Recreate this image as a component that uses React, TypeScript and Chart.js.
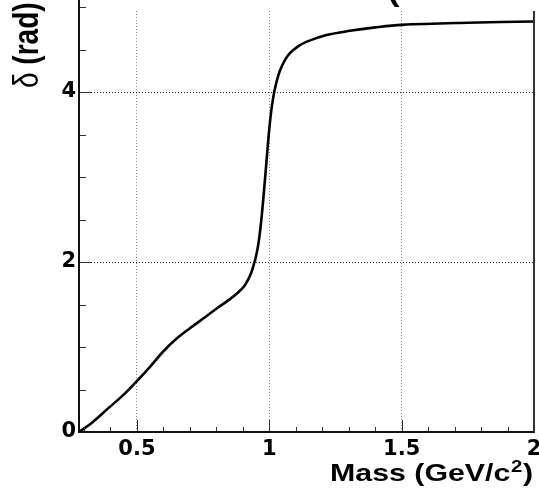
import React, { useEffect, useRef } from "react";
import { Chart, registerables } from "chart.js";

Chart.register(...registerables);

// Phase shift vs. invariant mass
const massGeV = [
  0.281, 0.33, 0.39, 0.45, 0.5, 0.55, 0.6, 0.65, 0.7, 0.75, 0.8, 0.85, 0.88,
  0.905, 0.922, 0.933, 0.94, 0.95, 0.96, 0.97, 0.98, 0.99, 1.0, 1.01, 1.02,
  1.03, 1.04, 1.06, 1.077, 1.11, 1.14, 1.216, 1.304, 1.4, 1.5, 1.75, 2.0,
];
const deltaRad = [
  0.0, 0.11, 0.275, 0.44, 0.6, 0.77, 0.95, 1.1, 1.22, 1.335, 1.45, 1.56, 1.635,
  1.715, 1.805, 1.885, 1.955, 2.07, 2.24, 2.5, 2.84, 3.21, 3.57, 3.84, 4.02,
  4.15, 4.25, 4.38, 4.455, 4.54, 4.59, 4.67, 4.72, 4.76, 4.79, 4.815, 4.83,
];

const xTickValues = [0.5, 1, 1.5, 2];
const yTickValues = [0, 2, 4];

const xMin = 0.281;
const xMax = 2.0;
const yMin = 0;
const yMax = 4.953;
const xMajorStep = 0.5;
const xMinorStep = 0.1;
const yMajorStep = 2;
const yMinorStep = 0.5;
const yMinorTop = 5.0;

const xTitleMain = "Mass (GeV/c";
const xTitleSup = "2";
const xTitleEnd = ")";
const yTitleSymbol = "\u03B4";
const yTitleRest = " (rad)";
const topFragment = "(";

const framePlugin = {
  id: "rootFrame",
  afterDraw(chart: any) {
    const ctx = chart.ctx as CanvasRenderingContext2D;
    const area = chart.chartArea;
    const xs = chart.scales.x;
    const ys = chart.scales.y;
    ctx.save();

    // tick marks (inside the frame, ROOT style)
    ctx.strokeStyle = "#333";
    ctx.lineWidth = 1;
    ctx.beginPath();
    for (let i = 3; i <= 19; i++) {
      const v = i * xMinorStep;
      const px = Math.round(xs.getPixelForValue(v)) + 0.5;
      const major = Math.abs(v / xMajorStep - Math.round(v / xMajorStep)) < 1e-6;
      const len = major ? 12 : 5;
      ctx.moveTo(px, area.bottom);
      ctx.lineTo(px, area.bottom - len);
    }
    for (let v = yMinorStep; v <= yMinorTop + 1e-6; v += yMinorStep) {
      const py = Math.round(ys.getPixelForValue(v)) + 0.5;
      const major = Math.abs(v / yMajorStep - Math.round(v / yMajorStep)) < 1e-6;
      const len = major ? 12 : 7;
      ctx.moveTo(area.left, py);
      ctx.lineTo(area.left + len, py);
    }
    ctx.stroke();

    // frame lines
    ctx.strokeStyle = "#111";
    ctx.lineWidth = 2;
    ctx.beginPath();
    ctx.moveTo(area.left, 0);
    ctx.lineTo(area.left, area.bottom + 1);
    ctx.moveTo(area.left - 1, area.bottom);
    ctx.lineTo(area.right + 1, area.bottom);
    ctx.stroke();
    ctx.strokeStyle = "#333";
    ctx.beginPath();
    ctx.moveTo(area.right, area.top);
    ctx.lineTo(area.right, area.bottom);
    ctx.stroke();

    // x title
    ctx.fillStyle = "#000";
    ctx.textBaseline = "alphabetic";
    ctx.textAlign = "left";
    const mainFont = "bold 24px 'Liberation Sans', Arial, sans-serif";
    const supFont = "bold 16px 'Liberation Sans', Arial, sans-serif";
    ctx.font = mainFont;
    const w1 = ctx.measureText(xTitleMain).width;
    const w3 = ctx.measureText(xTitleEnd).width;
    ctx.font = supFont;
    const w2 = ctx.measureText(xTitleSup).width + 1;
    const total = w1 + w2 + w3;
    const targetRight = 533;
    const targetWidth = 203;
    const sx = targetWidth / total;
    ctx.save();
    ctx.translate(targetRight - targetWidth, 481);
    ctx.scale(sx, 1);
    ctx.font = mainFont;
    ctx.fillText(xTitleMain, 0, 0);
    ctx.font = supFont;
    ctx.fillText(xTitleSup, w1 + 0.5, -9);
    ctx.font = mainFont;
    ctx.fillText(xTitleEnd, w1 + w2, 0);
    ctx.restore();

    // y title (rotated)
    ctx.save();
    ctx.translate(38, 88);
    ctx.rotate(-Math.PI / 2);
    ctx.scale(1, 1.25);
    ctx.font = "28px 'Liberation Sans', Arial, sans-serif";
    ctx.fillText(yTitleSymbol, 0, 0);
    const ws = ctx.measureText(yTitleSymbol).width;
    ctx.font = "bold 28px 'Liberation Sans', Arial, sans-serif";
    ctx.fillText(yTitleRest, ws, 0);
    ctx.restore();

    // clipped fragment of a glyph above the cropped picture
    ctx.save();
    ctx.translate(388, 1);
    ctx.scale(1.25, 1);
    ctx.font = "bold 28px 'Liberation Sans', Arial, sans-serif";
    ctx.fillText(topFragment, 0, 0);
    ctx.restore();

    ctx.restore();
  },
};

const setTicks = (values: number[]) => (scale: any) => {
  scale.ticks = values.map((v) => ({ value: v }));
};

export default function App() {
  const ref = useRef<HTMLCanvasElement | null>(null);

  useEffect(() => {
    if (!ref.current) return;
    const points = massGeV.map((m, i) => ({ x: m, y: deltaRad[i] }));
    const tickFont = { family: "'DejaVu Sans', sans-serif", size: 21, weight: "bold" as const };
    const chart = new Chart(ref.current, {
      type: "line",
      data: {
        datasets: [
          {
            data: points,
            borderColor: "#000",
            borderWidth: 2.6,
            pointRadius: 0,
            fill: false,
            tension: 0.35,
          },
        ],
      },
      options: {
        animation: false,
        responsive: false,
        devicePixelRatio: 1,
        layout: { padding: { top: 11, right: 5, left: 0, bottom: 0 } },
        plugins: { legend: { display: false }, tooltip: { enabled: false }, title: { display: false } },
        scales: {
          x: {
            type: "linear",
            min: xMin,
            max: xMax,
            afterBuildTicks: setTicks(xTickValues),
            afterFit: (scale: any) => {
              scale.height = 62;
              scale.paddingLeft = 0;
              scale.paddingRight = 0;
            },
            ticks: {
              color: "#000",
              font: tickFont,
              padding: 5,
              maxRotation: 0,
              autoSkip: false,
              callback: (v: any) => String(v),
            },
            grid: { color: "#8a8a8a", lineWidth: 1, drawTicks: false },
            border: { display: false, dash: [1, 2] },
          },
          y: {
            type: "linear",
            min: yMin,
            max: yMax,
            afterBuildTicks: setTicks(yTickValues),
            afterFit: (scale: any) => {
              scale.width = 79;
              scale.paddingTop = 0;
              scale.paddingBottom = 0;
            },
            ticks: {
              color: "#000",
              font: tickFont,
              padding: 3,
              autoSkip: false,
              callback: (v: any) => String(v),
            },
            grid: { color: "#222", lineWidth: 1, drawTicks: false },
            border: { display: false, dash: [1, 2] },
          },
        },
      },
      plugins: [framePlugin],
    });
    return () => chart.destroy();
  }, []);

  return (
    <div style={{ position: "absolute", left: 0, top: 0, width: 539, height: 494, background: "#fff" }}>
      <canvas ref={ref} width={539} height={494} style={{ display: "block" }} />
    </div>
  );
}
